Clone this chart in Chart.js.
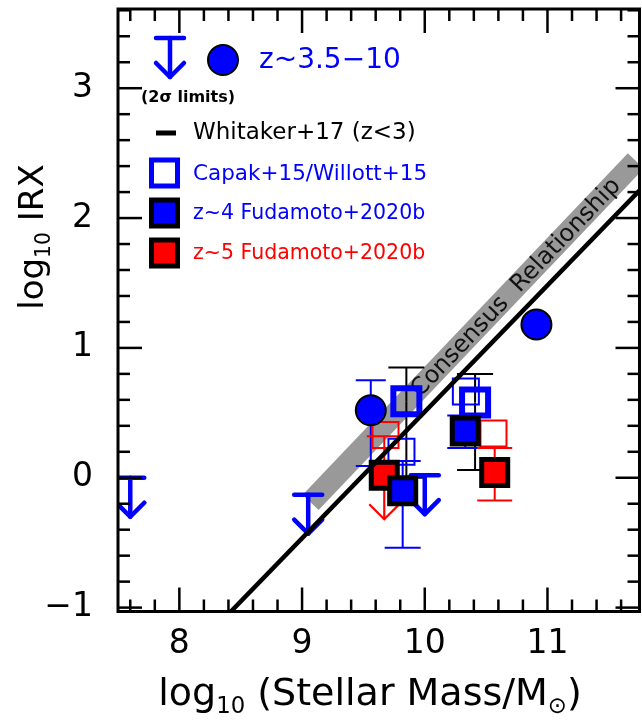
<!DOCTYPE html>
<html><head><meta charset="utf-8">
<script src="https://cdn.jsdelivr.net/npm/chart.js@4.4.0/dist/chart.umd.min.js"></script>
<style>html,body{margin:0;padding:0;background:#fff;} #wrap{width:642px;height:721px;}</style>
</head><body><div id="wrap"><canvas id="c" width="642" height="721"></canvas></div>
<script>
// ---------------- data ----------------
const xTickVals = [8, 9, 10, 11];
const yTickVals = [-1, 0, 1, 2, 3];

// Whitaker+17 (z<3) relation
const whitakerX = [8.40, 11.80];
const whitakerY = [-1.05, 2.26];

// Consensus relationship band (centre line)
const consensusX = [9.07, 11.72];
const consensusY = [-0.19, 2.44];

// z~3.5-10 detections (filled circles)
const circX  = [9.56, 10.91];
const circY  = [0.52, 1.18];
const circLo = [0.09, null];
const circHi = [0.75, null];

// z~3.5-10 2-sigma upper limits
const limX = [7.60, 9.05, 10.00];
const limY = [0.00, -0.13, 0.02];

// Capak+15 / Willott+15
const capakX  = [9.85, 10.41];
const capakY  = [0.59, 0.58];
const capakLo = [0.00, 0.06];
const capakHi = [0.85, 0.80];

// z~4 Fudamoto+2020b
const z4X  = [9.82, 10.33];
const z4Y  = [-0.10, 0.36];
const z4Lo = [-0.54, 0.23];
const z4Hi = [0.13, 0.48];

// z~5 Fudamoto+2020b
const z5X  = [9.67, 10.57];
const z5Y  = [0.02, 0.04];
const z5Lo = [null, -0.175];
const z5Hi = [0.32, 0.23];
const z5LoArrow = [-0.32, null];

// alternative (thin open) estimates
const z4altX = [9.81, 10.335];
const z4altY = [0.20, 0.665];
const z5altX = [9.68, 10.56];
const z5altY = [0.33, 0.34];

// ---------------- helpers ----------------
const BLUE = '#0000ff', RED = '#ff0000';
const FONT = '"DejaVu Sans", sans-serif';
const pts = (xs, ys) => xs.map((x, i) => ({x: x, y: ys[i]}));

function seg(ctx, x1, y1, x2, y2) { ctx.beginPath(); ctx.moveTo(x1, y1); ctx.lineTo(x2, y2); ctx.stroke(); }

function errBars(ctx, xs, ys, X, Y, LO, HI, color, w, capW) {
  ctx.save(); ctx.strokeStyle = color; ctx.lineWidth = w; ctx.lineCap = 'butt';
  X.forEach((x, i) => {
    const px = xs.getPixelForValue(x), pc = ys.getPixelForValue(Y[i]);
    [LO[i], HI[i]].forEach(v => {
      if (v === null || v === undefined) return;
      const p = ys.getPixelForValue(v);
      seg(ctx, px, pc, px, p);
      seg(ctx, px - capW / 2, p, px + capW / 2, p);
    });
  });
  ctx.restore();
}

function limitArrow(ctx, px, py, color) {
  ctx.save(); ctx.strokeStyle = color; ctx.lineWidth = 4.5; ctx.lineCap = 'round'; ctx.lineJoin = 'round';
  seg(ctx, px - 14, py, px + 14, py);
  seg(ctx, px, py, px, py + 39);
  ctx.beginPath(); ctx.moveTo(px - 14, py + 25); ctx.lineTo(px, py + 39); ctx.lineTo(px + 14, py + 25); ctx.stroke();
  ctx.restore();
}

function subText(ctx, parts, cx, y, size) {
  const widths = parts.map(p => { ctx.font = (p.sub ? size * 0.6 : size) + 'px ' + FONT; return ctx.measureText(p.t).width; });
  let x = cx - widths.reduce((a, b) => a + b, 0) / 2;
  parts.forEach((p, i) => {
    ctx.font = (p.sub ? size * 0.6 : size) + 'px ' + FONT;
    ctx.fillText(p.t, x, p.sub ? y + size * 0.22 : y);
    x += widths[i];
  });
}

function square(ctx, cx, cy, side, fill, stroke, lw) {
  ctx.save(); ctx.lineWidth = lw; ctx.strokeStyle = stroke;
  if (fill) { ctx.fillStyle = fill; ctx.fillRect(cx - side / 2, cy - side / 2, side, side); }
  ctx.strokeRect(cx - side / 2, cy - side / 2, side, side);
  ctx.restore();
}

function noPad(s) { s.paddingLeft = 0; s.paddingRight = 0; s.paddingTop = 0; s.paddingBottom = 0; }

const BAND_INDEX = 0;

const overlay = {
  id: 'overlay',
  afterDatasetDraw(chart, args) {
    if (args.index !== BAND_INDEX) return;
    const ctx = chart.ctx, xs = chart.scales.x, ys = chart.scales.y, a = chart.chartArea;
    ctx.save();
    ctx.beginPath(); ctx.rect(a.left, a.top, a.right - a.left, a.bottom - a.top); ctx.clip();
    // label on consensus band
    const x1 = xs.getPixelForValue(consensusX[0]), y1 = ys.getPixelForValue(consensusY[0]);
    const x2 = xs.getPixelForValue(consensusX[1]), y2 = ys.getPixelForValue(consensusY[1]);
    const f = 0.63, tx = x1 + (x2 - x1) * f, ty = y1 + (y2 - y1) * f;
    ctx.save(); ctx.translate(tx, ty); ctx.rotate(Math.atan2(y2 - y1, x2 - x1));
    ctx.fillStyle = '#111'; ctx.font = '24px ' + FONT; ctx.textAlign = 'center'; ctx.textBaseline = 'middle';
    ctx.fillText('Consensus  Relationship', 0, 1);
    ctx.restore();
    // error bars
    errBars(ctx, xs, ys, capakX, capakY, capakLo, capakHi, '#000', 2, 36);
    errBars(ctx, xs, ys, circX, circY, circLo, circHi, BLUE, 2, 30);
    errBars(ctx, xs, ys, z4X, z4Y, z4Lo, z4Hi, BLUE, 2, 36);
    errBars(ctx, xs, ys, z5X, z5Y, z5Lo, z5Hi, RED, 2, 35);
    // z~5 lower arrow
    ctx.save(); ctx.strokeStyle = RED; ctx.lineWidth = 2.2;
    z5X.forEach((x, i) => {
      if (z5LoArrow[i] === null) return;
      const px = xs.getPixelForValue(x), p0 = ys.getPixelForValue(z5Y[i]), p1 = ys.getPixelForValue(z5LoArrow[i]);
      seg(ctx, px, p0, px, p1);
      ctx.beginPath(); ctx.moveTo(px - 15, p1 - 15); ctx.lineTo(px, p1); ctx.lineTo(px + 15, p1 - 15); ctx.stroke();
    });
    ctx.restore();
    // upper limits
    limX.forEach((x, i) => limitArrow(ctx, xs.getPixelForValue(x), ys.getPixelForValue(limY[i]), BLUE));
    ctx.restore();
  },
  afterDraw(chart) {
    const ctx = chart.ctx, xs = chart.scales.x, ys = chart.scales.y, a = chart.chartArea;
    ctx.save();
    // ticks (inward, all four sides)
    ctx.strokeStyle = '#000'; ctx.lineWidth = 2.5;
    for (let k = Math.ceil(xs.min * 5 - 1e-9); k <= Math.floor(xs.max * 5 + 1e-9); k++) {
      const p = xs.getPixelForValue(k / 5), L = (k % 5 === 0) ? 24 : 12;
      seg(ctx, p, a.bottom, p, a.bottom - L); seg(ctx, p, a.top, p, a.top + L);
    }
    for (let k = Math.ceil(ys.min * 5 - 1e-9); k <= Math.floor(ys.max * 5 + 1e-9); k++) {
      const p = ys.getPixelForValue(k / 5), L = (k % 5 === 0) ? 24 : 12;
      seg(ctx, a.left, p, a.left + L, p); seg(ctx, a.right, p, a.right - L, p);
    }
    // frame
    ctx.lineWidth = 3;
    ctx.strokeRect(a.left, a.top, a.right - a.left, a.bottom - a.top);

    // axis titles
    ctx.fillStyle = '#000'; ctx.textBaseline = 'alphabetic';
    subText(ctx, [{t: 'log'}, {t: '10', sub: true}, {t: ' (Stellar Mass/M'}, {t: '\u2299', sub: true}, {t: ')'}], 370, 705, 38);
    ctx.save(); ctx.translate(43, 237); ctx.rotate(-Math.PI / 2);
    subText(ctx, [{t: 'log'}, {t: '10', sub: true}, {t: ' IRX'}], 0, 0, 34);
    ctx.restore();

    // legend
    limitArrow(ctx, 170, 38, BLUE);
    ctx.save(); ctx.fillStyle = BLUE; ctx.strokeStyle = '#000'; ctx.lineWidth = 2;
    ctx.beginPath(); ctx.arc(223, 60, 15, 0, Math.PI * 2); ctx.fill(); ctx.stroke(); ctx.restore();
    ctx.textBaseline = 'middle'; ctx.textAlign = 'left';
    ctx.fillStyle = BLUE; ctx.font = '28px ' + FONT; ctx.fillText('z~3.5\u221210', 259, 61);
    ctx.fillStyle = '#000'; ctx.font = 'bold 16px ' + FONT; ctx.fillText('(2\u03c3 limits)', 141, 98);
    ctx.lineWidth = 5; ctx.lineCap = 'butt'; seg(ctx, 156, 133, 176, 133);
    ctx.font = '23px ' + FONT; ctx.fillText('Whitaker+17 (z<3)', 193, 133);
    square(ctx, 164.5, 173, 26, null, BLUE, 5);
    ctx.fillStyle = BLUE; ctx.font = '21.5px ' + FONT; ctx.fillText('Capak+15/Willott+15', 193, 174);
    square(ctx, 164.5, 213, 26, BLUE, '#000', 5);
    ctx.fillStyle = BLUE; ctx.font = '20.5px ' + FONT; ctx.fillText('z~4 Fudamoto+2020b', 193, 214);
    square(ctx, 164.5, 253, 26, RED, '#000', 5);
    ctx.fillStyle = RED; ctx.fillText('z~5 Fudamoto+2020b', 193, 254);
    ctx.restore();
  }
};

const R = 18.4;
new Chart(document.getElementById('c'), {
  data: {
    datasets: [
      {type: 'line', data: pts(consensusX, consensusY), borderColor: '#999999', borderWidth: 22, borderCapStyle: 'butt', pointRadius: 0, order: 10},
      {type: 'line', data: pts(whitakerX, whitakerY), borderColor: '#000', borderWidth: 4.5, pointRadius: 0, order: 1},
      {type: 'scatter', data: pts(z5altX, z5altY), pointStyle: 'rect', pointRadius: R, backgroundColor: 'rgba(0,0,0,0)', borderColor: RED, borderWidth: 2, order: 7},
      {type: 'scatter', data: pts(z4altX, z4altY), pointStyle: 'rect', pointRadius: R, backgroundColor: 'rgba(0,0,0,0)', borderColor: BLUE, borderWidth: 2, order: 6},
      {type: 'scatter', data: pts(capakX, capakY), pointStyle: 'rect', pointRadius: R, backgroundColor: 'rgba(0,0,0,0)', borderColor: BLUE, borderWidth: 6, order: 5},
      {type: 'scatter', data: pts(circX, circY), pointStyle: 'circle', pointRadius: 15, backgroundColor: BLUE, borderColor: '#000', borderWidth: 2, order: 5},
      {type: 'scatter', data: pts(z5X, z5Y), pointStyle: 'rect', pointRadius: R, backgroundColor: RED, borderColor: '#000', borderWidth: 5, order: 4},
      {type: 'scatter', data: pts(z4X, z4Y), pointStyle: 'rect', pointRadius: R, backgroundColor: BLUE, borderColor: '#000', borderWidth: 5, order: 3}
    ]
  },
  options: {
    responsive: false, animation: false, devicePixelRatio: 1,
    layout: {autoPadding: false, padding: {left: 0, top: 9, right: 2.5, bottom: 0}},
    plugins: {legend: {display: false}, tooltip: {enabled: false}},
    elements: {point: {hoverRadius: R}},
    scales: {
      x: {
        type: 'linear', min: 7.5, max: 11.75,
        grid: {display: false, drawTicks: false}, border: {display: false},
        afterBuildTicks: s => { s.ticks = xTickVals.map(v => ({value: v})); },
        afterFit: s => { s.height = 109.5; noPad(s); },
        ticks: {font: {family: 'DejaVu Sans', size: 33}, color: '#000', padding: 13, maxRotation: 0, autoSkip: false,
                callback: v => String(v)}
      },
      y: {
        type: 'linear', min: -1.03, max: 3.61,
        grid: {display: false, drawTicks: false}, border: {display: false},
        afterBuildTicks: s => { s.ticks = yTickVals.map(v => ({value: v})); },
        afterFit: s => { s.width = 118; noPad(s); },
        ticks: {font: {family: 'DejaVu Sans', size: 33}, color: '#000', padding: 25, autoSkip: false,
                callback: v => v < 0 ? '\u2212' + Math.abs(v) : String(v)}
      }
    }
  },
  plugins: [overlay]
});
</script></body></html>
